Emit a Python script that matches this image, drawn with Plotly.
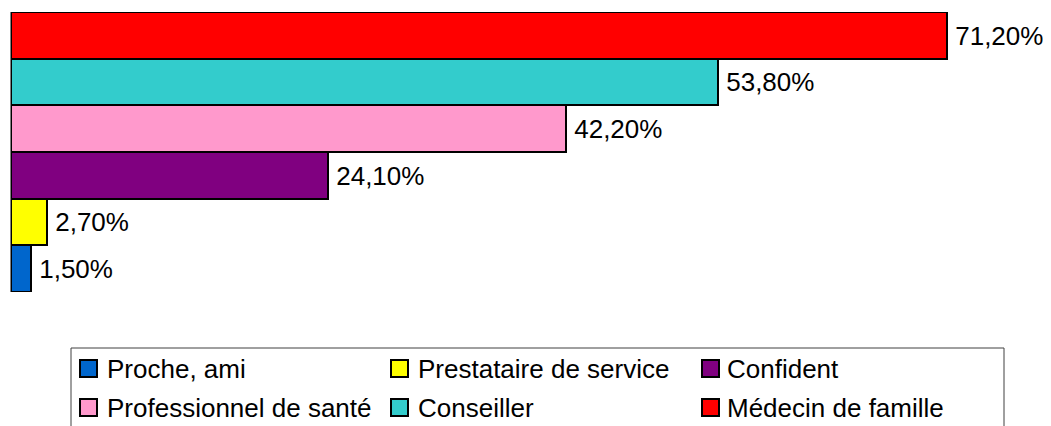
import plotly.graph_objects as go

# Data (bottom to top)
categories = ["Proche, ami", "Prestataire de service", "Confident",
              "Professionnel de santé", "Conseiller", "Médecin de famille"]
values = [1.5, 2.7, 24.1, 42.2, 53.8, 71.2]
colors = ["#0066CC", "#FFFF00", "#800080", "#FF99CC", "#33CCCC", "#FF0000"]

# The page body has an 8px margin, so the figure is offset by 8px.
OFF = 8
W, H = 1051 - OFF, 426 - OFF
# plot area in window pixels
WIN_L, WIN_T, PW, PH = 11, 12, 1040, 280
FONT = "Liberation Sans, Arial, sans-serif"


def px_x(px):
    return (px - WIN_L) / PW


def px_y(py):
    return (WIN_T + PH - py) / PH


fig = go.Figure()
for cat, val, col in zip(categories, values, colors):
    label = "\u2009" + f"{val:.2f}".replace(".", ",") + "%"
    fig.add_trace(go.Bar(
        y=[cat], x=[val], orientation="h", name=cat,
        marker=dict(color=col, line=dict(color="black", width=2)),
        text=[label], textposition="outside", cliponaxis=False,
        constraintext="none",
        textfont=dict(family=FONT, size=26, color="black"),
        showlegend=False, hoverinfo="x+name",
    ))

# Manual legend (3 columns, 2 rows)
shapes = [dict(type="rect", xref="paper", yref="paper",
               x0=px_x(71), x1=px_x(1004), y0=px_y(348), y1=px_y(470),
               line=dict(color="#404040", width=1), fillcolor="rgba(0,0,0,0)")]
annotations = []
col_sq = [80, 391, 702]
col_tx = [105, 416, 725]
row_top = [360, 399]
for i, (cat, col) in enumerate(zip(categories, colors)):
    r, c = divmod(i, 3)
    shapes.append(dict(type="rect", xref="paper", yref="paper",
                       x0=px_x(col_sq[c]), x1=px_x(col_sq[c] + 17),
                       y0=px_y(row_top[r]), y1=px_y(row_top[r] + 17),
                       fillcolor=col, line=dict(color="black", width=2)))
    annotations.append(dict(xref="paper", yref="paper",
                            x=px_x(col_tx[c]), y=px_y(row_top[r] + 8.5),
                            xanchor="left", yanchor="middle", showarrow=False,
                            text=cat, font=dict(family=FONT, size=26, color="black")))

PL = WIN_L - OFF
PT = WIN_T - OFF
fig.update_layout(
    width=W, height=H,
    margin=dict(l=PL, r=W - PL - PW, t=PT, b=H - PT - PH, pad=0),
    paper_bgcolor="white", plot_bgcolor="white",
    barmode="overlay", bargap=0,
    xaxis=dict(range=[0, PW / 13.15], showgrid=False, zeroline=False,
               showticklabels=False, showline=False, fixedrange=True),
    yaxis=dict(categoryorder="array", categoryarray=categories,
               showgrid=False, showticklabels=False, ticks="",
               showline=True, linecolor="#808080", linewidth=1, fixedrange=True),
    shapes=shapes, annotations=annotations,
    showlegend=False,
)

fig.write_html("out.html")
